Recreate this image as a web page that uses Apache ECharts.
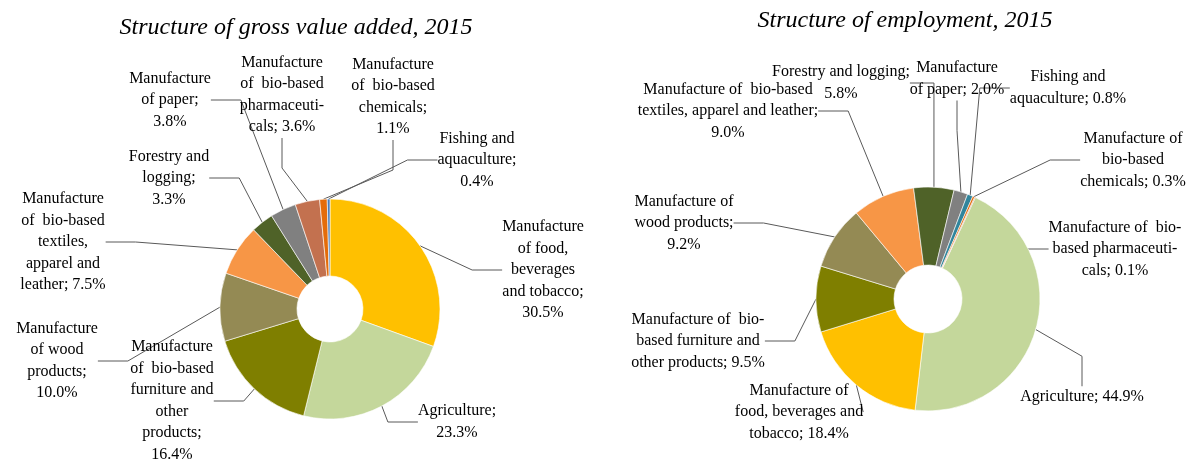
<!DOCTYPE html>
<html><head><meta charset="utf-8">
<script src="https://cdn.jsdelivr.net/npm/echarts@6/dist/echarts.min.js"></script>
<style>html,body{margin:0;padding:0;background:#fff}#c{width:1194px;height:461px}</style>
</head><body><div id="c"></div>
<script>
// ---- Data ----
var titleGVA = 'Structure of gross value added, 2015';
var titleEmp = 'Structure of employment, 2015';

var gvaCategories = ['Food', 'Agriculture', 'Furniture', 'Wood', 'Textiles', 'Forestry', 'Paper', 'Pharmaceuticals', 'Chemicals', 'Fishing'];
var gvaValues = [30.5, 23.3, 16.4, 10.0, 7.5, 3.3, 3.8, 3.6, 1.1, 0.4];
var gvaLabels = [
  'Manufacture\nof food,\nbeverages\nand tobacco;\n',
  'Agriculture;\n',
  'Manufacture\nof  bio-based\nfurniture and\nother\nproducts;\n',
  'Manufacture\nof wood\nproducts;\n',
  'Manufacture\nof  bio-based\ntextiles,\napparel and\nleather; ',
  'Forestry and\nlogging;\n',
  'Manufacture\nof paper;\n',
  'Manufacture\nof  bio-based\npharmaceuti-\ncals; ',
  'Manufacture\nof  bio-based\nchemicals;\n',
  'Fishing and\naquaculture;\n'
];

var empCategories = ['Agriculture', 'Food', 'Furniture', 'Wood', 'Textiles', 'Forestry', 'Paper', 'Fishing', 'Chemicals', 'Pharmaceuticals'];
var empValues = [44.9, 18.4, 9.5, 9.2, 9.0, 5.8, 2.0, 0.8, 0.3, 0.1];
var empLabels = [
  'Agriculture; ',
  'Manufacture of\nfood, beverages and\ntobacco; ',
  'Manufacture of  bio-\nbased furniture and\nother products; ',
  'Manufacture of\nwood products;\n',
  'Manufacture of  bio-based\ntextiles, apparel and leather;\n',
  'Forestry and logging;\n',
  'Manufacture\nof paper; ',
  'Fishing and\naquaculture; ',
  'Manufacture of\nbio-based\nchemicals; ',
  'Manufacture of  bio-\nbased pharmaceuti-\ncals; '
];

// ---- Styles / layout ----
var colorMap = {
  Food: '#FFC000', Agriculture: '#C4D79B', Furniture: '#7F7F00', Wood: '#948A54',
  Textiles: '#F79646', Forestry: '#4F6228', Paper: '#808080',
  Pharmaceuticals: '#C3714F', Chemicals: '#E46C0A', Fishing: '#4A7EBB'
};
var empColorMap = Object.assign({}, colorMap, { Fishing: '#31859C' });

var gvaLabelPos = [[543, 270], [457, 422], [172, 401], [57, 361], [63, 242], [169, 178], [170, 100], [282, 95], [393, 97], [477, 160]];
var empLabelPos = [[1082, 397], [799, 412], [698, 341], [684, 223], [728, 111], [841, 83], [957, 79], [1068, 88], [1133, 160], [1115, 249]];

function buildSeries(cats, vals, labels, cmap, pos, center, radius, startAngle) {
  return {
    type: 'pie',
    center: center,
    radius: radius,
    startAngle: startAngle,
    clockwise: true,
    avoidLabelOverlap: false,
    animation: false,
    itemStyle: { borderColor: '#fff', borderWidth: 0.6 },
    label: {
      show: true,
      fontFamily: 'Liberation Serif',
      fontSize: 16,
      lineHeight: 21.5,
      color: '#000',
      align: 'center',
      formatter: function (p) { return labels[p.dataIndex] + vals[p.dataIndex].toFixed(1) + '%'; }
    },
    labelLine: { show: true, lineStyle: { color: '#595959', width: 1 } },
    labelLayout: function (p) {
      var q = pos[p.dataIndex];
      return { x: q[0], y: q[1], align: 'center', verticalAlign: 'middle' };
    },
    emphasis: { disabled: true },
    data: cats.map(function (c, i) {
      return { name: c, value: vals[i], itemStyle: { color: cmap[c] } };
    })
  };
}

var chart = echarts.init(document.getElementById('c'), null, { renderer: 'canvas' });
chart.setOption({
  animation: false,
  graphic: [
    { type: 'text', x: 296, y: 28, style: { text: titleGVA, font: 'italic 24px "Liberation Serif"', fill: '#000', textAlign: 'center', textVerticalAlign: 'middle' } },
    { type: 'text', x: 905, y: 21, style: { text: titleEmp, font: 'italic 24px "Liberation Serif"', fill: '#000', textAlign: 'center', textVerticalAlign: 'middle' } }
  ],
  series: [
    buildSeries(gvaCategories, gvaValues, gvaLabels, colorMap, gvaLabelPos, [330, 309], [33, 110], 90),
    buildSeries(empCategories, empValues, empLabels, empColorMap, empLabelPos, [928, 299], [34, 112], 65)
  ]
});
</script>
</body></html>
